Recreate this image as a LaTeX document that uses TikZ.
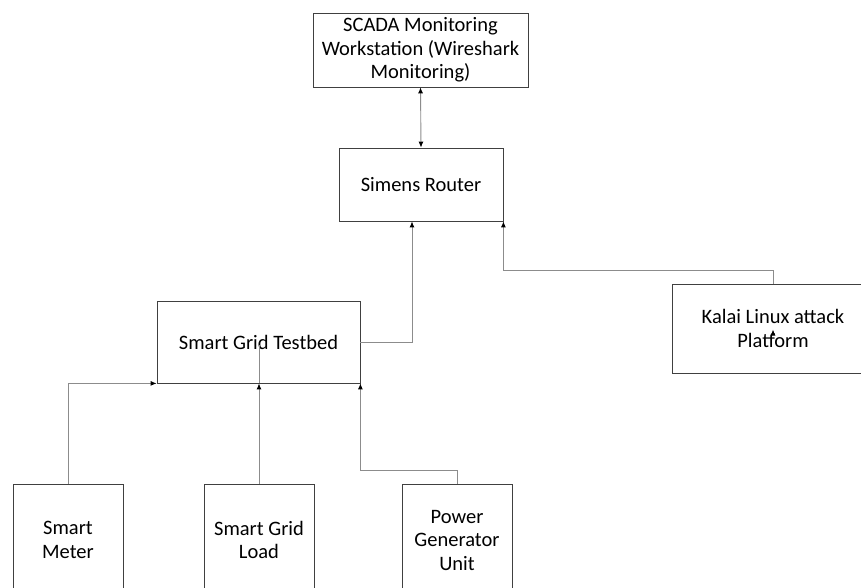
\documentclass[tikz,border=0pt]{standalone}
\usepackage{fontspec}
\setmainfont{Carlito}
\usetikzlibrary{arrows.meta,calc}
\begin{document}
\begin{tikzpicture}[x=1pt,y=-1pt,
  box/.style={draw=black!75,line width=0.8pt,fill=white,inner sep=0pt,align=center,
    font=\fontsize{20.5}{23.5}\selectfont,text=black},
  tip/.tip={Latex[length=6pt,width=5pt,color=black]},
  conn/.style={draw=black!45,line width=0.9pt,-tip},
  bidir/.style={draw=black!45,line width=0.9pt,tip-tip},
  plain/.style={draw=black!45,line width=0.9pt}]
\clip (0,0) rectangle (861,588);
\fill[white] (0,0) rectangle (861,588);
% boxes
\node[box,minimum width=215,minimum height=74] (scada) at (420.5,50) {SCADA Monitoring\\Workstation (Wireshark\\Monitoring)};
\node[box,minimum width=164,minimum height=73] (router) at (421,184.5) {Simens Router};
\node[box,minimum width=203,minimum height=82] (testbed) at (258.5,342) {Smart Grid Testbed};
\node[box,minimum width=202,minimum height=89] (kalai) at (773,328.5) {Kalai Linux attack\\Platform};
\node[box,minimum width=110,minimum height=112] (meter) at (68,540) {Smart\\Meter};
\node[box,minimum width=110,minimum height=112] (load) at (259,540) {Smart Grid\\Load};
\node[box,minimum width=110,minimum height=112] (power) at (457,540) {Power\\Generator\\Unit};
% connectors
\draw[bidir] (scada.south) -- (router.north);
\draw[conn] (testbed.east) -| ($(router.south)+(-9,0)$);
\draw[conn] (kalai.north) |- ($(router.south east)+(0,49)$) -- (router.south east);
\draw[conn] (meter.north) |- (testbed.south west);
\draw[conn] (load.north) -- (load.north |- testbed.south);
\draw[plain] (load.north |- testbed.south) -- ++(0,-38);
\draw[conn] (power.north) -- ++(0,-13) -| (testbed.south east);
\draw[conn] ($(kalai.center)+(0,4)$) -- ++(0,-3);
\end{tikzpicture}
\end{document}
